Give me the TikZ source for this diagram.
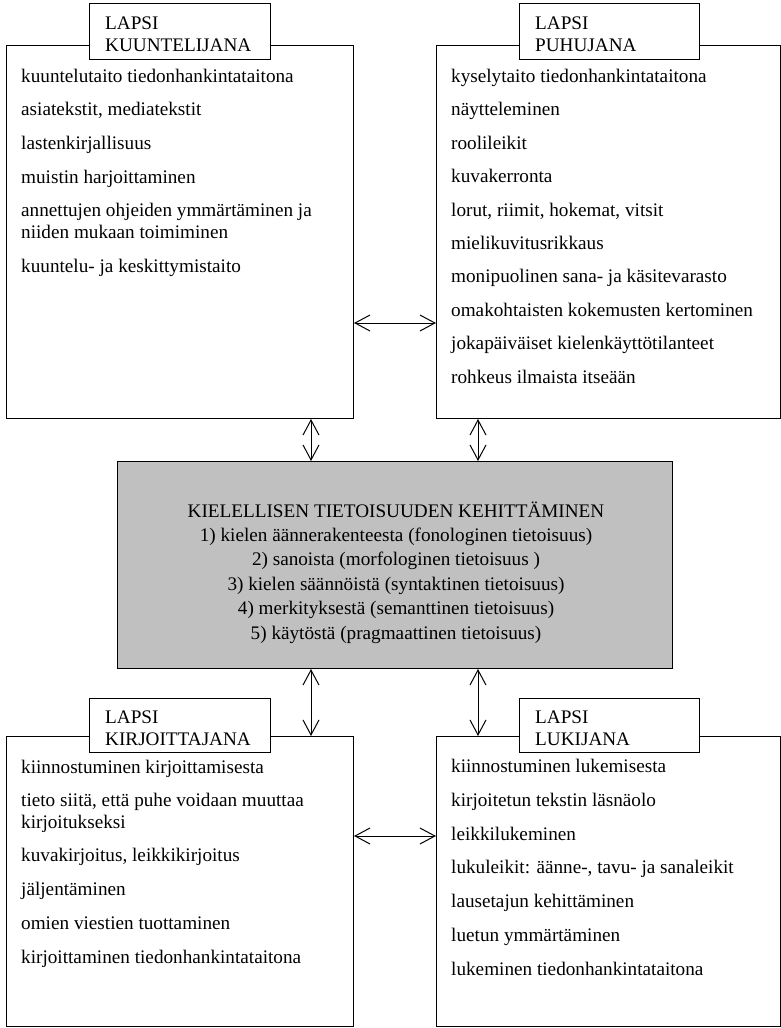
\documentclass[tikz,border=0pt]{standalone}
\usepackage{fontspec}
\setmainfont{Liberation Serif}
\usetikzlibrary{arrows.meta}
\definecolor{boxgray}{RGB}{192,192,192}
\begin{document}
\begin{tikzpicture}[x=1pt,y=-1pt,
  box/.style={draw, line width=1pt, rectangle, inner sep=0pt, anchor=north west},
  titlebox/.style={draw, line width=1pt, fill=white, rectangle, inner sep=0pt, anchor=north west},
  titletext/.style={anchor=base west, inner sep=0pt, align=left, font=\fontsize{19.2}{22}\selectfont},
  items/.style={anchor=base west, inner sep=0pt, align=left, font=\fontsize{19.2}{21.5}\selectfont},
  conn/.style={line width=1pt, {Straight Barb[length=15pt,width=16pt]}-{Straight Barb[length=15pt,width=16pt]}}
]
\useasboundingbox[fill=white] (0,0) rectangle (781,1028);

% main boxes
\node[box, minimum width=347pt, minimum height=373pt] (tl) at (6,45) {};
\node[box, minimum width=343.5pt, minimum height=373pt] (tr) at (436,45) {};
\node[box, fill=boxgray, minimum width=555pt, minimum height=207pt] (ctr) at (117,461) {};
\node[box, minimum width=347pt, minimum height=290pt] (bl) at (6,736) {};
\node[box, minimum width=343.5pt, minimum height=290pt] (br) at (436,736) {};

% title boxes
\node[titlebox, minimum width=181pt, minimum height=56pt] (tlt) at (89,3) {};
\node[titlebox, minimum width=180pt, minimum height=56pt] (trt) at (519,3) {};
\node[titlebox, minimum width=181pt, minimum height=54pt] (blt) at (89,698) {};
\node[titlebox, minimum width=180pt, minimum height=54pt] (brt) at (519,698) {};

% multi-line nodes: base anchor = baseline of the last line
\node[titletext] (tltx) at (105,51) {LAPSI\\KUUNTELIJANA};
\node[titletext] (trtx) at (535,51) {LAPSI\\PUHUJANA};
\node[titletext] (bltx) at (105,745) {LAPSI\\KIRJOITTAJANA};
\node[titletext] (brtx) at (535,745) {LAPSI\\LUKIJANA};

% item texts
\node[items] (tlitems) at (21,272) {kuuntelutaito tiedonhankintataitona\\[12.2pt]
asiatekstit, mediatekstit\\[12.2pt]
lastenkirjallisuus\\[12.2pt]
muistin harjoittaminen\\[12.2pt]
annettujen ohjeiden ymmärtäminen ja\\
niiden mukaan toimiminen\\[12.2pt]
kuuntelu- ja keskittymistaito};

\node[items] (tritems) at (451,383) {kyselytaito tiedonhankintataitona\\[11.9pt]
näytteleminen\\[11.9pt]
roolileikit\\[11.9pt]
kuvakerronta\\[11.9pt]
lorut, riimit, hokemat, vitsit\\[11.9pt]
mielikuvitusrikkaus\\[11.9pt]
monipuolinen sana- ja käsitevarasto\\[11.9pt]
omakohtaisten kokemusten kertominen\\[11.9pt]
jokapäiväiset kielenkäyttötilanteet\\[11.9pt]
rohkeus ilmaista itseään};

\node[items] (blitems) at (21,963) {kiinnostuminen kirjoittamisesta\\[12.2pt]
tieto siitä, että puhe voidaan muuttaa\\
kirjoitukseksi\\[12.2pt]
kuvakirjoitus, leikkikirjoitus\\[12.2pt]
jäljentäminen\\[12.2pt]
omien viestien tuottaminen\\[12.2pt]
kirjoittaminen tiedonhankintataitona};

\node[items] (britems) at (451,975) {kiinnostuminen lukemisesta\\[12.2pt]
kirjoitetun tekstin läsnäolo\\[12.2pt]
leikkilukeminen\\[12.2pt]
lukuleikit: äänne-, tavu- ja sanaleikit\\[12.2pt]
lausetajun kehittäminen\\[12.2pt]
luetun ymmärtäminen\\[12.2pt]
lukeminen tiedonhankintataitona};

% center text
\node[anchor=base, inner sep=0pt, align=center, font=\fontsize{19.2}{24.4}\selectfont] (ctrtx) at (396,639)
{KIELELLISEN TIETOISUUDEN KEHITTÄMINEN\\
1) kielen äännerakenteesta (fonologinen tietoisuus)\\
2) sanoista (morfologinen tietoisuus )\\
3) kielen säännöistä (syntaktinen tietoisuus)\\
4) merkityksestä (semanttinen tietoisuus)\\
5) käytöstä (pragmaattinen tietoisuus)};

% connector guide coordinates
\coordinate (xa) at (311,0);
\coordinate (xb) at (478,0);
\coordinate (ya) at (0,323);
\coordinate (yb) at (0,836);

\draw[conn] (tl.east |- ya) -- (tr.west |- ya);
\draw[conn] (bl.east |- yb) -- (br.west |- yb);
\draw[conn] (tl.south -| xa) -- (ctr.north -| xa);
\draw[conn] (tr.south -| xb) -- (ctr.north -| xb);
\draw[conn] (ctr.south -| xa) -- (bl.north -| xa);
\draw[conn] (ctr.south -| xb) -- (br.north -| xb);
\end{tikzpicture}
\end{document}
